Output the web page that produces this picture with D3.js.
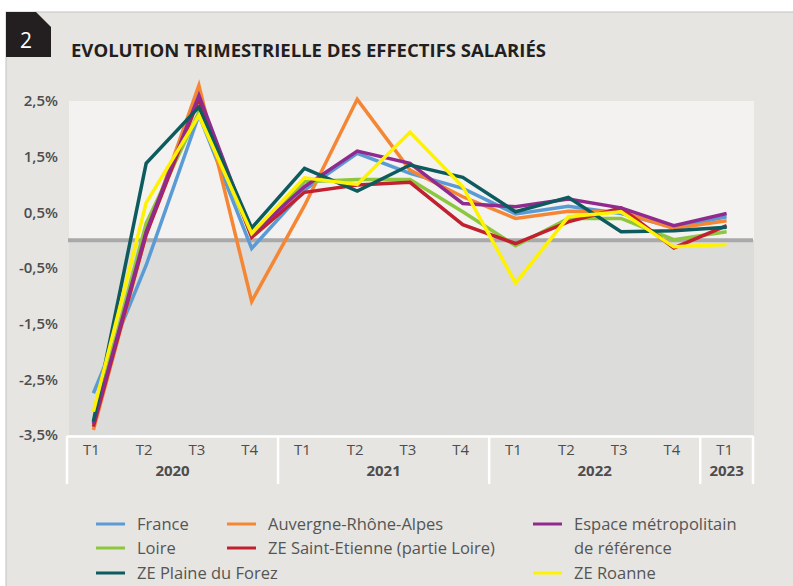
<!DOCTYPE html>
<html>
<head>
<meta charset="utf-8">
<script src="https://cdn.jsdelivr.net/npm/d3@7"></script>
<style>
  body { margin: 0; background: #fff; }
  text { font-family: "Open Sans", sans-serif; }
</style>
</head>
<body>
<svg id="chart" width="793" height="586"></svg>
<script>
// trimestres, T1 2020 -> T1 2023
var periods = ['2020-T1','2020-T2','2020-T3','2020-T4',
               '2021-T1','2021-T2','2021-T3','2021-T4',
               '2022-T1','2022-T2','2022-T3','2022-T4',
               '2023-T1'];

var yTicks = [-3.5, -2.5, -1.5, -0.5, 0.5, 1.5, 2.5];

// evolutions trimestrielles en %
var france  = [-2.75, -0.45, 2.25, -0.15, 0.90, 1.56, 1.20, 0.93, 0.47, 0.61, 0.48, 0.23, 0.42];
var ara     = [-3.41,  0.10, 2.78, -1.10, 0.62, 2.53, 1.26, 0.78, 0.39, 0.52, 0.51, 0.21, 0.35];
var espace  = [-3.30,  0.15, 2.60,  0.10, 0.96, 1.60, 1.38, 0.66, 0.60, 0.74, 0.58, 0.26, 0.48];
var loire   = [-3.28,  0.30, 2.30,  0.08, 1.05, 1.09, 1.09, 0.51, -0.10, 0.39, 0.39, 0.01, 0.15];
var stEtienne = [-3.35, 0.10, 2.54, 0.05, 0.86, 0.99, 1.04, 0.28, -0.06, 0.33, 0.58, -0.14, 0.26];
var forez   = [-3.26,  1.38, 2.39,  0.22, 1.29, 0.88, 1.35, 1.13, 0.51, 0.77, 0.15, 0.17, 0.23];
var roanne  = [-3.08,  0.67, 2.24,  0.12, 1.12, 1.00, 1.94, 0.96, -0.77, 0.42, 0.51, -0.12, -0.08];

var seriesNames = ['France', 'Auvergne-Rhône-Alpes', 'Espace métropolitain de référence',
                   'Loire', 'ZE Saint-Etienne (partie Loire)', 'ZE Plaine du Forez', 'ZE Roanne'];
var seriesColors = ['#5b9bd5', '#f58634', '#912a8f', '#8dc63f', '#c1202e', '#0d5b5e', '#fff200'];
var seriesValues = [france, ara, espace, loire, stEtienne, forez, roanne];

// drawing order (roanne on top)
var drawOrder = [0, 1, 3, 4, 2, 5, 6];

var svg = d3.select('#chart');

// panel
svg.append('rect')
  .attr('x', 6).attr('y', 12)
  .attr('width', 800).attr('height', 600)
  .attr('fill', '#e6e5e2')
  .attr('stroke', '#c4c4c4').attr('stroke-width', 1);

// numbered badge
svg.append('path')
  .attr('d', 'M6,12 L36,12 L51,27 L51,57 L6,57 Z')
  .attr('fill', '#231f20');
svg.append('text')
  .attr('x', 26).attr('y', 48)
  .attr('text-anchor', 'middle')
  .attr('font-size', 21)
  .attr('fill', '#fff')
  .text('2');

svg.append('text')
  .attr('x', 71).attr('y', 57)
  .attr('font-size', 17)
  .attr('font-weight', 700)
  .attr('fill', '#231f20')
  .attr('textLength', 475)
  .attr('lengthAdjust', 'spacingAndGlyphs')
  .text('EVOLUTION TRIMESTRIELLE DES EFFECTIFS SALARIÉS');

var x = d3.scaleBand().domain(periods).range([67, 753]).padding(0);
var y = d3.scaleLinear().domain([-3.5, 2.5]).range([435, 101]);
var bw = x.bandwidth();

// plot background, lighter above zero
svg.append('rect')
  .attr('x', 69).attr('y', y(2.5))
  .attr('width', 754 - 69).attr('height', y(0) - y(2.5))
  .attr('fill', '#f3f2f0');
svg.append('rect')
  .attr('x', 69).attr('y', y(0))
  .attr('width', 754 - 69).attr('height', y(-3.5) - y(0))
  .attr('fill', '#dcdcdb');

svg.append('line')
  .attr('x1', 68).attr('x2', 753)
  .attr('y1', y(0)).attr('y2', y(0))
  .attr('stroke', '#a9a9aa').attr('stroke-width', 4);

// y axis
var fmt = function(d) { return d3.format('.1f')(d).replace('.', ',').replace('−', '-') + '%'; };
var yAxis = svg.append('g')
  .attr('transform', 'translate(58,0)')
  .call(d3.axisLeft(y).tickValues(yTicks).tickSize(0).tickPadding(0).tickFormat(fmt));
yAxis.select('.domain').remove();
yAxis.selectAll('text')
  .attr('font-family', '"Open Sans", sans-serif')
  .attr('font-size', 15)
  .attr('font-weight', 600)
  .attr('fill', '#4d4d4d');

// x axis: quarter + year groups
var years = [];
periods.forEach(function(p) {
  var yr = p.slice(0, 4);
  if (!years.length || years[years.length - 1].year != yr) years.push({year: yr, list: []});
  years[years.length - 1].list.push(p);
});

var axisG = svg.append('g');
axisG.append('line')
  .attr('x1', x.range()[0]).attr('x2', x.range()[1])
  .attr('y1', 436.5).attr('y2', 436.5)
  .attr('stroke', '#fff').attr('stroke-width', 2.5);

var bounds = years.map(function(g) { return x(g.list[0]); }).concat([x.range()[1]]);
axisG.selectAll('.sep').data(bounds).enter().append('line')
  .attr('x1', function(d) { return d; }).attr('x2', function(d) { return d; })
  .attr('y1', 436).attr('y2', 484)
  .attr('stroke', '#fff').attr('stroke-width', 2.5);

axisG.selectAll('.q').data(periods).enter().append('text')
  .attr('x', function(d) { return x(d) + bw / 2 - 2; })
  .attr('y', 455)
  .attr('text-anchor', 'middle')
  .attr('font-size', 15)
  .attr('fill', '#4d4d4d')
  .text(function(d) { return d.slice(5); });

axisG.selectAll('.yr').data(years).enter().append('text')
  .attr('x', function(g) { return (x(g.list[0]) + x(g.list[g.list.length - 1]) + bw) / 2; })
  .attr('y', 476)
  .attr('text-anchor', 'middle')
  .attr('font-size', 15)
  .attr('font-weight', 700)
  .attr('fill', '#4d4d4d')
  .text(function(g) { return g.year; });

// lines
var line = d3.line()
  .x(function(d, i) { return x(periods[i]) + bw / 2; })
  .y(function(d) { return y(d); });

svg.append('g').selectAll('path').data(drawOrder).enter().append('path')
  .attr('d', function(k) { return line(seriesValues[k]); })
  .attr('fill', 'none')
  .attr('stroke', function(k) { return seriesColors[k]; })
  .attr('stroke-width', 3.5)
  .attr('stroke-linejoin', 'miter')
  .attr('stroke-miterlimit', 6);

// legend
var legendPos = [[96, 524], [227, 524], [533, 524], [96, 548], [227, 548], [96, 573], [533, 573]];
var leg = svg.append('g').selectAll('g').data(seriesNames).enter().append('g')
  .attr('transform', function(d, i) { return 'translate(' + legendPos[i][0] + ',' + legendPos[i][1] + ')'; });
leg.append('line')
  .attr('x1', 0).attr('x2', 29)
  .attr('stroke', function(d, i) { return seriesColors[i]; })
  .attr('stroke-width', 3);
leg.append('text')
  .attr('x', 41)
  .attr('y', 6)
  .attr('font-size', 16.5)
  .attr('fill', '#555')
  .each(function(d, i) {
    var t = d3.select(this);
    if (i == 2) {
      t.append('tspan').attr('x', 41).text('Espace métropolitain');
      t.append('tspan').attr('x', 41).attr('dy', 24).text('de référence');
    } else {
      t.text(d);
    }
  });
</script>
</body>
</html>
